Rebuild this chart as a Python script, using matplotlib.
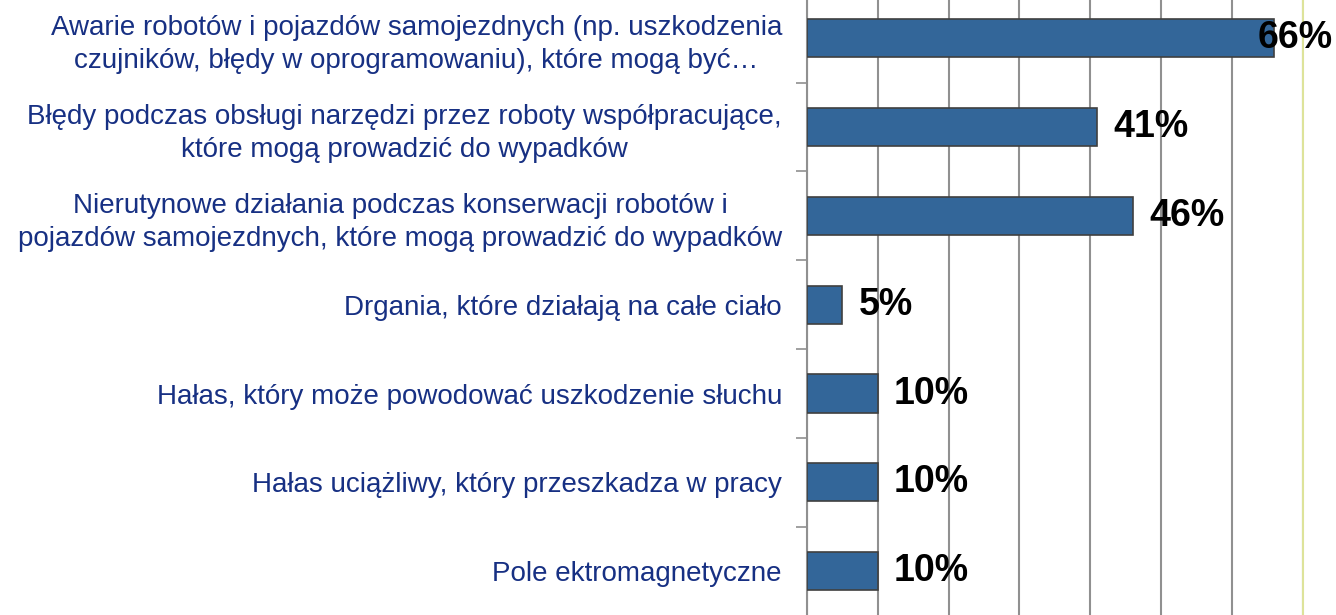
import matplotlib
matplotlib.use('Agg')
import matplotlib.pyplot as plt
import numpy as np

categories = [
    "Awarie robotów i pojazdów samojezdnych (np. uszkodzenia\nczujników, błędy w oprogramowaniu), które mogą być…",
    "Błędy podczas obsługi narzędzi przez roboty współpracujące,\nktóre mogą prowadzić do wypadków",
    "Nierutynowe działania podczas konserwacji robotów i\npojazdów samojezdnych, które mogą prowadzić do wypadków",
    "Drgania, które działają na całe ciało",
    "Hałas, który może powodować uszkodzenie słuchu",
    "Hałas uciążliwy, który przeszkadza w pracy",
    "Pole ektromagnetyczne",
]
values = [66, 41, 46, 5, 10, 10, 10]
labels = ["66%", "41%", "46%", "5%", "10%", "10%", "10%"]

plt.rcParams['font.family'] = ['Liberation Sans', 'DejaVu Sans']

fig = plt.figure(figsize=(13.36, 6.15), dpi=100)
ax = fig.add_axes([0.604, -0.001, 0.371, 1.011])

y = np.arange(len(categories))
ax.barh(y, values, height=0.43, color='#336699', edgecolor='#404040', linewidth=1.2, zorder=3)

ax.set_xlim(0, 70)
ax.set_ylim(len(categories) - 0.5, -0.5)
ax.set_xticks(np.arange(0, 71, 10))
ax.xaxis.grid(True, color='#909090', linewidth=1.5, zorder=0)
ax.tick_params(axis='x', length=0, labelbottom=False)

# category labels, ticks only on the boundaries
ax.set_yticks(y)
ax.set_yticklabels(categories, color='#173083', fontsize=20, ha='right',
                   multialignment='center', linespacing=1.35)
ax.tick_params(axis='y', which='major', length=0, pad=18)
ax.set_yticks(np.arange(-0.5, len(categories), 1), minor=True)
ax.tick_params(axis='y', which='minor', length=8, color='#909090', width=1.2)

for side in ['top', 'bottom']:
    ax.spines[side].set_visible(False)
ax.spines['left'].set_color('#909090')
ax.spines['left'].set_linewidth(1.5)
ax.spines['right'].set_color('#DDE39A')
ax.spines['right'].set_linewidth(1.5)

for yi, v, lab in zip(y, values, labels):
    if v + 14 > 70:
        # no room on the right, keep it inside the figure
        ax.text(74.3, yi, lab, ha='right', va='center', fontsize=27, fontweight='bold',
                color='black', zorder=4, clip_on=False)
    else:
        ax.text(v + 2.3, yi, lab, ha='left', va='center', fontsize=27, fontweight='bold',
                color='black', zorder=4)

fig.savefig('out.png', dpi=100)
